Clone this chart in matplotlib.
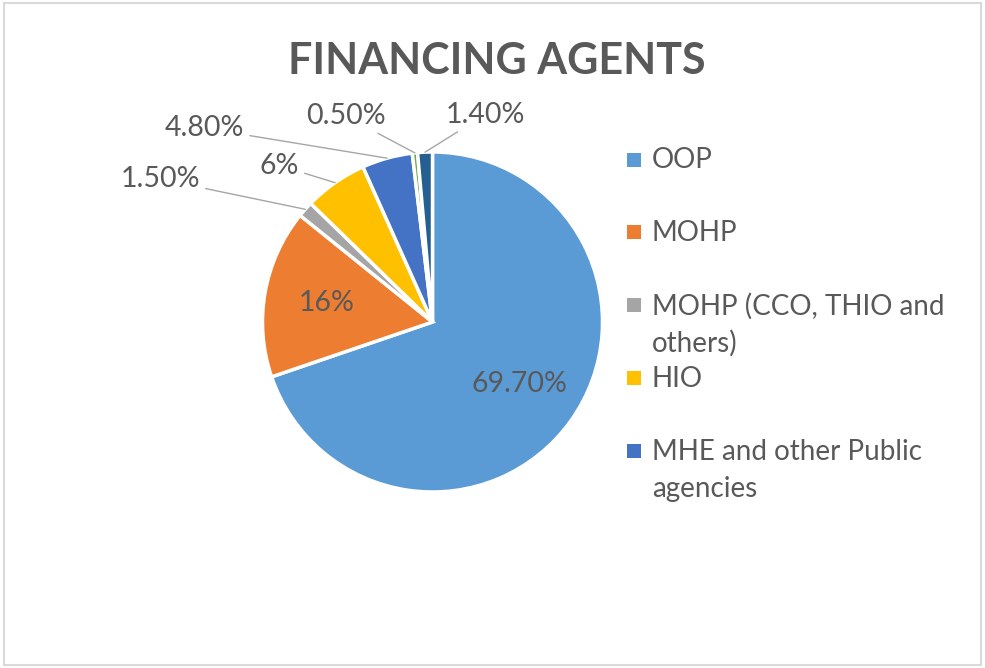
import numpy as np
import matplotlib
matplotlib.use('Agg')
import matplotlib.pyplot as plt
from matplotlib.patches import Rectangle

# pie slices, clockwise from 12 o'clock
values = [69.7, 16, 1.5, 6, 4.8, 0.5, 1.4]
colors = ['#5B9BD5', '#ED7D31', '#A5A5A5', '#FFC000', '#4472C4', '#70AD47', '#255E91']
# legend only lists the first five agents
legend_labels = ['OOP', 'MOHP', 'MOHP (CCO, THIO and\nothers)', 'HIO',
                 'MHE and other Public\nagencies']

pct_labels = [f'{v:.0f}%' if v == int(v) else f'{v:.2f}%' for v in values]

# where the outside labels sit (axes data units, radius = 1)
outside_pos = {2: (-1.60, 0.84), 3: (-0.90, 0.92), 4: (-1.34, 1.14),
               5: (-0.51, 1.21), 6: (0.31, 1.22)}

plt.rcParams['font.family'] = ['Lato', 'DejaVu Sans']
text_col = '#595959'

fig = plt.figure(figsize=(9.85, 6.68), dpi=100)
fig.patches.append(Rectangle((0.004, 0.004), 0.992, 0.991, transform=fig.transFigure,
                             fill=False, edgecolor='#D9D9D9', linewidth=1.5))

fig.text(0.504, (668 - 74) / 668, 'FINANCING AGENTS', ha='center', va='baseline',
         fontsize=31, fontweight='bold', color=text_col)

# axes placed so the pie centre is at (432.5, 322) px with 170 px radius
ax = fig.add_axes([177.5 / 985, 91 / 668, 510 / 985, 510 / 668])
wedges, _ = ax.pie(values, colors=colors, startangle=90, counterclock=False,
                   wedgeprops=dict(edgecolor='white', linewidth=2.5))
ax.set_xlim(-1.5, 1.5)
ax.set_ylim(-1.5, 1.5)
ax.set_aspect('equal')
ax.axis('off')

for i, w in enumerate(wedges):
    mid = np.deg2rad((w.theta1 + w.theta2) / 2)
    if i in outside_pos:
        ax.annotate(pct_labels[i], xy=(np.cos(mid), np.sin(mid)),
                    xytext=outside_pos[i], ha='center', va='center',
                    fontsize=20.5, color=text_col,
                    arrowprops=dict(arrowstyle='-', color='#A6A6A6', lw=1,
                                    shrinkA=2, shrinkB=0))
    else:
        r = 0.63
        ax.text(r * np.cos(mid), r * np.sin(mid), pct_labels[i], ha='center',
                va='center', fontsize=20.5, color=text_col)

# legend, one entry every 72.9 px, wrapped lines 37 px apart
for k, lab in enumerate(legend_labels):
    base = 168.5 + k * 72.9
    fig.patches.append(Rectangle((627 / 985, (668 - base + 2) / 668), 14 / 985, 14 / 668,
                                 transform=fig.transFigure, facecolor=colors[k],
                                 edgecolor='none'))
    for j, line in enumerate(lab.split('\n')):
        fig.text(652 / 985, (668 - base - 37 * j) / 668, line, ha='left',
                 va='baseline', fontsize=20, color=text_col)

fig.savefig('out.png', dpi=100)
